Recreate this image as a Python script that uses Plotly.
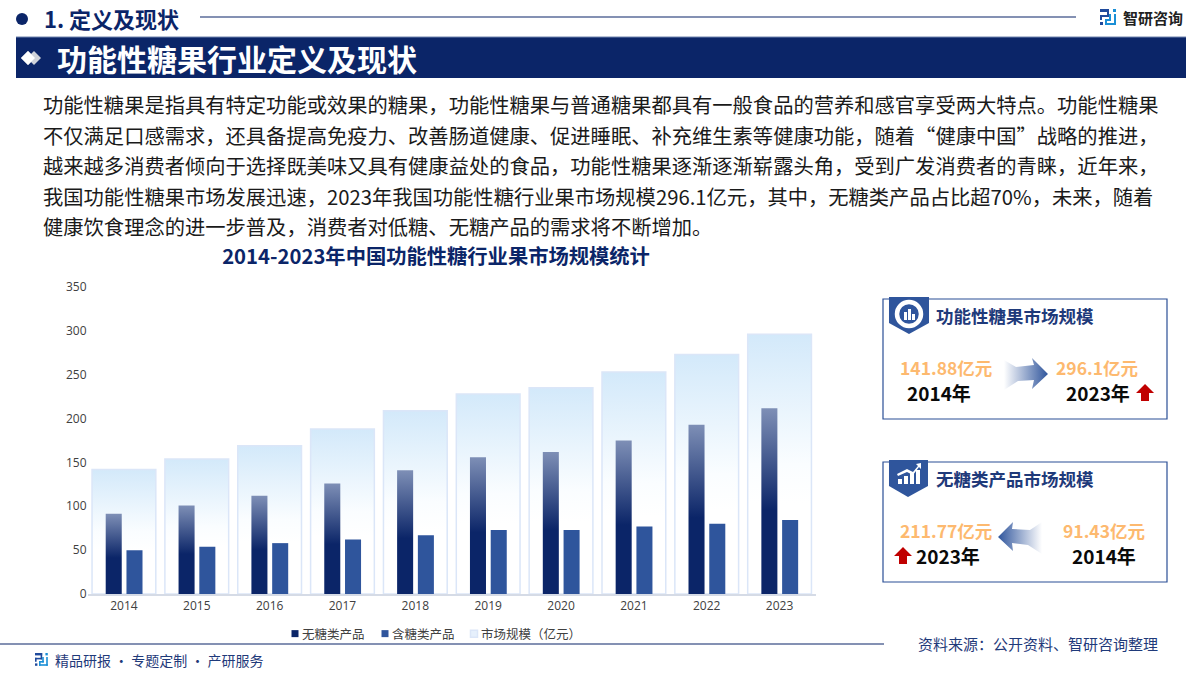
import plotly.graph_objects as go

years = ["2014","2015","2016","2017","2018","2019","2020","2021","2022","2023"]
market_size = [141.88,154,169,188,209,228,235,253,273,296.1]
no_sugar = [91.43,101,112,126,141,156,162,175,193,211.77]
with_sugar = [50,54,58,62,67,73,73,77,80,84.3]
series_names = ["无糖类产品","含糖类产品","市场规模（亿元）"]
y_ticks = [0,50,100,150,200,250,300,350]

body_lines = [
 "功能性糖果是指具有特定功能或效果的糖果，功能性糖果与普通糖果都具有一般食品的营养和感官享受两大特点。功能性糖果",
 "不仅满足口感需求，还具备提高免疫力、改善肠道健康、促进睡眠、补充维生素等健康功能，随着“健康中国”战略的推进，",
 "越来越多消费者倾向于选择既美味又具有健康益处的食品，功能性糖果逐渐逐渐崭露头角，受到广发消费者的青睐，近年来，",
 "我国功能性糖果市场发展迅速，2023年我国功能性糖行业果市场规模296.1亿元，其中，无糖类产品占比超70%，未来，随着",
 "健康饮食理念的进一步普及，消费者对低糖、无糖产品的需求将不断增加。",
]
chart_title = "2014-2023年中国功能性糖行业果市场规模统计"

NAVY = "#0b2568"
BLUE = "#2f559c"
CJK = "Noto Sans CJK SC"
W, H = 1200, 674
def px(x): return x / W
def py(y): return 1 - y / H

fig = go.Figure()
fig.add_bar(x=years, y=market_size, name=series_names[2], width=0.875, offset=-0.4375,
            marker=dict(color="#e6f0fc", line=dict(color="#dbe6f8", width=1.5)), legendrank=3)
fig.add_bar(x=years, y=no_sugar, name=series_names[0], width=0.22, offset=-0.25,
            marker=dict(color=NAVY, line=dict(width=0)), legendrank=1)
fig.add_bar(x=years, y=with_sugar, name=series_names[1], width=0.22, offset=0.035,
            marker=dict(color=BLUE, line=dict(width=0)), legendrank=2)

shapes, notes = [], []
def text(x, y, s, size, color, bold=False, anchor="left"):
    notes.append(dict(x=px(x), y=py(y), xref="paper", yref="paper", text=f"<b>{s}</b>" if bold else s,
                      showarrow=False, xanchor=anchor, yanchor="middle", borderpad=0,
                      font=dict(family=CJK, size=size, color=color)))
def rect(x0, y0, x1, y1, fill=None, line=None, lw=1):
    shapes.append(dict(type="rect", xref="paper", yref="paper", x0=px(x0), x1=px(x1), y0=py(y0), y1=py(y1),
                       fillcolor=fill or "rgba(0,0,0,0)", line=dict(color=line or "rgba(0,0,0,0)", width=lw if line else 0)))
def hline(x0, x1, y, color, lw=1):
    shapes.append(dict(type="line", xref="paper", yref="paper", x0=px(x0), x1=px(x1), y0=py(y), y1=py(y), line=dict(color=color, width=lw)))
def poly(pts, fill, line=None, lw=0):
    d = "M" + " L".join(f"{px(a):.5f},{py(b):.5f}" for a, b in pts) + " Z"
    shapes.append(dict(type="path", xref="paper", yref="paper", path=d, fillcolor=fill,
                       line=dict(color=line or "rgba(0,0,0,0)", width=lw)))
def circle(cx, cy, r, fill=None, line=None, lw=0):
    shapes.append(dict(type="circle", xref="paper", yref="paper", x0=px(cx-r), x1=px(cx+r), y0=py(cy+r), y1=py(cy-r),
                       fillcolor=fill or "rgba(0,0,0,0)", line=dict(color=line or "rgba(0,0,0,0)", width=lw)))

# header
circle(22, 19, 6, NAVY)
text(43, 18, "<b>1. 定义及现状</b>", 22, NAVY)
hline(200, 1076, 17, NAVY, 1.2)
def logo(x, y, s=1.0):
    c1, c2 = "#1f4a9c", "#1a8fd6"
    for a, b, cc, dd, col in [(0,0,9,3,c1),(7,0,9,8,c1),(0,6,9,8,c1),(0,6,2,11,c1),(0,13,3,16,c1),
                              (5,10,7,16,c2),(5,14,16,16,c2),(14,5,16,16,c2),(5,10,11,12,c2),(9,5,11,12,c2),(13,0,16,3,c2)]:
        rect(x+a*s, y+b*s, x+cc*s, y+dd*s, col)
logo(1100, 9)
text(1122, 17, "<b>智研咨询</b>", 15, "#222222")

# banner
rect(16, 37, 1186, 78, NAVY)
hline(16, 1186, 37, "#6f83ad", 1)
poly([(21,58),(28,51),(35,58),(28,65)], "#d0d3da")
poly([(27,58),(34,51),(41,58),(34,65)], "#d0d3da")
poly([(21,58),(28,51),(35,58),(28,65)], "#ffffff")
text(56, 58, "<b>功能性糖果行业定义及现状</b>", 30, "#ffffff")

# body
for i, line in enumerate(body_lines):
    text(41.5, 104 + i * 30.5, line, 20.3, "#1a1a1a")

# panels
for top in (299, 462):
    rect(883, top, 1167, top + 120, "#ffffff", "#2a4f96", 1.2)
poly([(889,297),(929,297),(929,323),(909,334),(889,323)], BLUE)
poly([(889,460),(928,460),(928,486),(908,497),(889,486)], BLUE)
text(935, 315, "<b>功能性糖果市场规模</b>", 17.5, "#1f3a7a")
text(935, 479, "<b>无糖类产品市场规模</b>", 17.5, "#1f3a7a")
# icons
circle(909, 314, 12, None, "#ffffff", 4.5)
rect(904, 312, 907, 320, "#ffffff"); rect(908, 309, 911, 320, "#ffffff"); rect(912, 314, 915, 320, "#ffffff")
for a, b in [(898,484-5),(904,484-8),(910,484-11),(916,484-14)]:
    rect(a, b, a+4, 484, "#ffffff")
poly([(897,474),(907,469),(913,472),(918,466),(916,464),(921,463),(921,469),(919,467),(913,475),(907,472),(898,476)], "#ffffff")

ORANGE = "#fdb96f"
text(945.5, 367, "<b>141.88亿元</b>", 17.5, ORANGE, anchor="center")
text(938.5, 392, "<b>2014年</b>", 19, "#0a0a0a", anchor="center")
text(1096.5, 367, "<b>296.1亿元</b>", 17.5, ORANGE, anchor="center")
text(1097.5, 392, "<b>2023年</b>", 19, "#0a0a0a", anchor="center")
text(945.5, 530, "<b>211.77亿元</b>", 17.5, ORANGE, anchor="center")
text(948, 555, "<b>2023年</b>", 19, "#0a0a0a", anchor="center")
text(1104, 530, "<b>91.43亿元</b>", 17.5, ORANGE, anchor="center")
text(1104, 555, "<b>2014年</b>", 19, "#0a0a0a", anchor="center")
def red_up(cx, top):
    poly([(cx,top),(cx+9,top+9),(cx+4,top+9),(cx+4,top+17),(cx-4,top+17),(cx-4,top+9),(cx-9,top+9)], "#c00000")
red_up(1145, 384); red_up(903, 547)
# block arrows (gradient applied after drawing)
poly([(1004,360),(1016,367),(1034,365),(1032,358),(1048,374),(1032,389),(1034,380),(1018,381),(1004,390)], "#3a5fa6", "#3a5fa6", 0)
poly([(1042,522),(1030,530),(1012,529),(1013,522),(998,537),(1013,551),(1012,543),(1028,545),(1042,554)], "#3a5fa7", "#3a5fa7", 0)

# footer
hline(0, 884, 644, NAVY, 1.2)
logo(35, 653, 0.8)
text(54, 660, "精品研报 · 专题定制 · 产研服务", 14, "#1f3a7a")
text(917, 643, "资料来源：公开资料、智研咨询整理", 15, "#1f3a7a")

fig.update_layout(
    width=W, height=H, margin=dict(l=0, r=0, t=0, b=0, autoexpand=False), autosize=False,
    paper_bgcolor="#ffffff", plot_bgcolor="rgba(0,0,0,0)", barmode="overlay",
    title=dict(text=f"<b>{chart_title}</b>", x=px(436), xanchor="center", y=py(257), yanchor="middle",
               font=dict(family=CJK, size=20.3, color=NAVY)),
    font=dict(family=CJK, size=12, color="#404040"),
    xaxis=dict(domain=[px(87.5), px(816)], type="category", showline=True, linecolor="#d5dbe6", linewidth=1.5,
               ticks="", showgrid=False, tickfont=dict(family="Open Sans", size=12, color="#404040")),
    yaxis=dict(domain=[py(594), py(287)], range=[0, 350], tickvals=y_ticks, showgrid=False, zeroline=False,
               showline=False, ticks="", tickfont=dict(family="Open Sans", size=12, color="#404040")),
    legend=dict(orientation="h", x=px(262), xanchor="left", y=py(634), yanchor="middle", bgcolor="rgba(0,0,0,0)",
                font=dict(family=CJK, size=12.5, color="#404040"), itemclick=False, itemdoubleclick=False),
    shapes=shapes, annotations=notes, showlegend=True,
)

post = """
document.body.style.margin='0';document.body.style.overflow='hidden';
var gd=document.getElementById('{plot_id}');
function grad(defs,id,x2,y2,stops){
  var NS='http://www.w3.org/2000/svg';
  if(defs.querySelector('#'+id))return;
  var g=document.createElementNS(NS,'linearGradient');g.setAttribute('id',id);
  g.setAttribute('x1','0');g.setAttribute('y1','0');g.setAttribute('x2',x2);g.setAttribute('y2',y2);
  stops.forEach(function(s){var t=document.createElementNS(NS,'stop');t.setAttribute('offset',s[0]);t.setAttribute('stop-color',s[1]);g.appendChild(t);});
  defs.appendChild(g);
}
function styleAll(){
  var svg=gd.querySelector('.main-svg');if(!svg)return;
  var defs=svg.querySelector('defs');
  grad(defs,'gMarket','0','1',[['0','#d3e9fa'],['0.5','#fafdff'],['0.65','#ffffff'],['1','#ffffff']]);
  grad(defs,'gNo','0','1',[['0','#7e8fb6'],['0.55','#0b2568'],['1','#0b2568']]);
  grad(defs,'gRight','1','0',[['0','#ffffff'],['1','#2f559c']]);
  grad(defs,'gLeft','1','0',[['0','#2f559c'],['1','#ffffff']]);
  var tr=gd.querySelectorAll('.barlayer .trace');
  if(tr.length>=2){
    tr[0].querySelectorAll('path').forEach(function(p){p.style.fill='url(#gMarket)';});
    tr[1].querySelectorAll('path').forEach(function(p){p.style.fill='url(#gNo)';});
  }
  gd.querySelectorAll('.shapelayer path').forEach(function(p){
    var f=p.style.fill.replace(/ /g,'');
    if(f==='rgb(58,95,166)'){p.style.fill='url(#gRight)';p.style.stroke='none';}
    if(f==='rgb(58,95,167)'){p.style.fill='url(#gLeft)';p.style.stroke='none';}
  });
  gd.querySelectorAll('.legend .legendpoints path').forEach(function(p){
    p.setAttribute('d','M3.5,3.5H-3.5V-3.5H3.5Z');
    p.parentNode.setAttribute('transform','translate(13,0)');
  });
  var steps=[0,90,179];
  gd.querySelectorAll('.legend .traces').forEach(function(t,i){
    var m=/translate\\(([-\\d.]+),\\s*([-\\d.]+)\\)/.exec(t.getAttribute('transform')||'');
    if(m)t.setAttribute('transform','translate('+steps[i]+','+m[2]+')');
  });
}
styleAll();setTimeout(styleAll,50);setTimeout(styleAll,300);
if(gd.on)gd.on('plotly_afterplot',styleAll);
"""
fig.write_html("out.html", post_script=post, config={"displayModeBar": False})
